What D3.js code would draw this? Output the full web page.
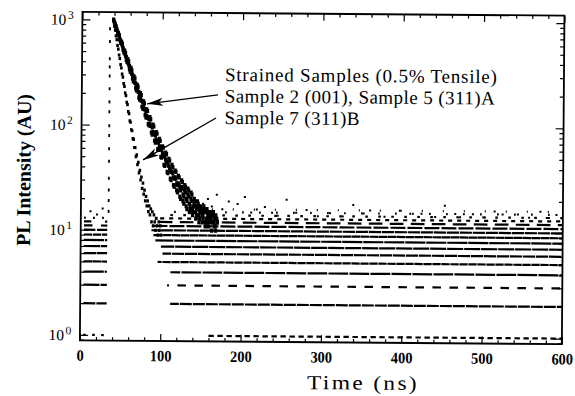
<!DOCTYPE html>
<html>
<head>
<meta charset="utf-8">
<script src="https://cdn.jsdelivr.net/npm/d3@7/dist/d3.min.js"></script>
<style>
  body { margin: 0; background: #fff; }
  text { font-family: "Liberation Serif", "Times New Roman", Times, serif; fill: #000; }
</style>
</head>
<body>
<svg id="chart" width="575" height="396"></svg>
<script>
// PL decay, counts per 1 ns channel, first channel at t0 (ns)
const t0 = 39;
// Sample 2 (001) and Sample 5 (311)A - the slow band
const sample2 = [
  1000, 944, 871, 848, 803, 741, 724, 694, 637, 601, 590, 566,
  517, 488, 479, 455, 414, 398, 391, 375, 338, 321,
  318, 306, 276, 259, 262, 251, 224, 213, 216, 207,
  182, 174, 178, 170, 149, 143, 147, 141, 124, 118,
  122, 117, 102, 99, 103, 98, 85, 81, 86, 83,
  71, 68, 73, 70, 59, 58, 63, 60, 50, 49,
  54, 52, 42, 41, 47, 45, 36, 35, 41, 39,
  31, 30, 36, 35, 27, 26, 32, 31, 24, 23,
  28, 27, 21, 20, 26, 25, 19, 18, 24, 23,
  17, 16, 22, 21, 15, 16, 20, 19, 14, 15,
  18, 17, 13, 14, 17, 16, 12, 13, 16, 15,
  12, 14, 16, 15, 11, 12, 15, 14, 11, 13,
  15, 14, 10, 12, 14, 13, 11, 10, 13, 12
];
const sample5 = [
  981, 936, 906, 861, 798, 766, 747, 712, 655, 624, 616, 589,
  538, 511, 507, 484, 442, 425, 420, 403, 363, 349,
  348, 333, 300, 286, 289, 277, 248, 237, 241, 230,
  205, 197, 201, 192, 170, 163, 168, 161, 142, 136,
  141, 136, 118, 114, 119, 114, 98, 95, 101, 97,
  83, 80, 86, 83, 70, 68, 74, 71, 59, 58,
  63, 61, 51, 50, 55, 53, 44, 42, 48, 46,
  37, 36, 42, 40, 32, 31, 37, 36, 28, 27,
  33, 32, 25, 24, 30, 29, 22, 21, 27, 26,
  20, 19, 25, 24, 18, 17, 23, 22, 16, 17,
  20, 19, 15, 16, 19, 18, 14, 15, 17, 16,
  14, 13, 17, 16, 12, 13, 16, 15, 12, 14,
  15, 13, 12, 14, 15, 12, 11, 14, 13, 12
];
// Sample 7 (311)B - the fast band
const sample7 = [
  972, 864, 792, 699, 644, 568, 524, 461, 427, 374, 348, 304,
  284, 247, 232, 201, 190, 164, 156, 134, 128, 109,
  106, 90, 88, 74, 73, 61, 61, 50, 52, 42,
  44, 35, 37, 30, 32, 25, 28, 22, 24, 19,
  21, 17, 19, 15, 17, 14, 16, 12, 15, 11,
  14, 12, 10, 13, 11, 9, 12, 10, 11, 9
];

// rising edge channel
const riseTime = 34.5;
const riseCounts = [820, 620, 425, 355, 290, 220, 165, 133, 98, 79, 59, 45, 31, 24, 19, 15];

// dark-count background: integer count levels
const preLevels = [1, 2, 3, 4, 5, 6, 7, 8, 9, 10, 11, 12, 13];
const preShare = [0.3, 0.92, 0.94, 0.96, 0.96, 0.96, 0.96, 0.96, 0.92, 0.88, 0.5, 0.35, 0.2];
const preStart = 4, preEnd = 33;

const bgLevels = [1, 2, 3, 4, 5, 6, 7, 8, 9, 10, 11, 12, 13, 14, 15, 16];
const bgStart = [160, 112, 108, 112, 96, 102, 100, 93, 90, 88, 88, 90, 92, 100, 110, 120];
const bgShare = [0.6, 0.92, 0.5, 0.94, 0.92, 0.94, 0.95, 0.96, 0.96, 0.94, 0.88, 0.65, 0.45, 0.2, 0.1, 0.05];
const bgEnd = 600;

// stray high counts above the background
const spikeTimes = [152, 158, 163, 169, 176, 184, 195, 204, 212, 219, 229, 238, 245, 256, 268, 281, 295, 310, 326, 339,
  352, 360, 378, 397, 410, 424, 441, 453, 466, 472, 488, 503, 515, 525, 544, 558, 572, 580, 592, 12, 20, 27];
const spikeCounts = [18, 20, 17, 22, 16, 19, 18, 21, 15, 16, 17, 15, 14, 20, 15, 16, 14, 15, 14, 18,
  15, 16, 14, 16, 15, 15, 14, 18, 15, 14, 15, 14, 16, 15, 15, 14, 16, 14, 15, 15, 14, 16];

const xTicks = [0, 100, 200, 300, 400, 500, 600];
const xMinor = d3.range(0, 601, 20).filter(d => d % 100);
const yTicks = [1, 10, 100, 1000];

const notes = ['Strained Samples (0.5% Tensile)', 'Sample 2 (001), Sample 5 (311)A', 'Sample 7 (311)B'];
const noteWidths = [272, 270, 135];
const noteAt = [178, 266];
const arrows = [
  { from: [169.5, 196], to: [81.3, 159] },
  { from: [167.3, 118], to: [76.8, 46.6] }
];

const x = d3.scaleLinear().domain([0, 600]).range([81, 563]);
const y = d3.scaleLog().domain([0.886, 1178]).range([342, 13.5]);

const svg = d3.select('#chart');
const defs = svg.append('defs');
defs.append('clipPath').attr('id', 'plot').append('rect')
  .attr('x', x.range()[0]).attr('y', y.range()[1])
  .attr('width', x.range()[1] - x.range()[0]).attr('height', y.range()[0] - y.range()[1]);
defs.append('marker').attr('id', 'head')
  .attr('viewBox', '0 0 16 8').attr('refX', 16).attr('refY', 4)
  .attr('markerWidth', 16).attr('markerHeight', 8)
  .attr('markerUnits', 'userSpaceOnUse').attr('orient', 'auto')
  .append('path').attr('d', 'M0,0 L16,4 L0,8 L4,4 Z').attr('fill', '#000');

// the scan is slightly tilted
const g = svg.append('g').attr('transform', 'rotate(0.45 288 198)');
const plot = g.append('g').attr('clip-path', 'url(#plot)');

function dash(share, i) {
  const p = 9 + (i % 4) * 4;
  return (p * share).toFixed(2) + ' ' + (p * (1 - share)).toFixed(2);
}

plot.append('g').selectAll('line').data(preLevels).join('line')
  .attr('x1', x(preStart)).attr('x2', x(preEnd))
  .attr('y1', d => y(d)).attr('y2', d => y(d))
  .attr('stroke', '#000').attr('stroke-width', 2.2)
  .attr('stroke-dasharray', (d, i) => dash(preShare[i], i));

plot.append('g').selectAll('line').data(bgLevels).join('line')
  .attr('x1', (d, i) => x(bgStart[i])).attr('x2', x(bgEnd))
  .attr('y1', d => y(d)).attr('y2', d => y(d))
  .attr('stroke', '#000').attr('stroke-width', 2.2)
  .attr('stroke-dasharray', (d, i) => dash(bgShare[i], i))
  .attr('stroke-dashoffset', (d, i) => i * 3.3);

plot.append('g').selectAll('rect').data(spikeCounts).join('rect')
  .attr('x', (d, i) => x(spikeTimes[i]) - 1).attr('y', d => y(d) - 1)
  .attr('width', 2).attr('height', 2).attr('fill', '#000');

// slow band drawn with bigger dots, the scan shows it as a solid smear
[[sample2, 3.2, 4.2], [sample5, 3.2, 4.2], [sample7, 2.6, 3.2]].forEach(([series, w, h]) => {
  plot.append('g').selectAll('rect').data(series).join('rect')
    .attr('x', (d, i) => x(t0 + i) - w / 2).attr('y', d => y(d) - h / 2)
    .attr('width', w).attr('height', h).attr('fill', '#000');
});

plot.append('g').selectAll('rect').data(riseCounts).join('rect')
  .attr('x', x(riseTime) - 0.9).attr('y', d => y(d) - 1.5)
  .attr('width', 1.8).attr('height', 3).attr('fill', '#000');

// axes, ticks inward on all four sides
function styleTicks(a) {
  a.select('.domain').remove();
  a.selectAll('line').attr('stroke-width', 1.2);
}
const [x0, x1] = x.range();
const [yb, yt] = y.range();
const yMinor = y.ticks().filter(d => !yTicks.includes(d));

g.append('g').attr('transform', `translate(0,${yb})`)
  .call(d3.axisBottom(x).tickValues(xTicks).tickSize(-7).tickPadding(9).tickFormat(d3.format('d')))
  .call(styleTicks)
  .call(a => a.selectAll('text')
    .attr('font-size', 16).attr('font-weight', 'bold')
    .attr('textLength', d => String(d).length * 7.2).attr('lengthAdjust', 'spacingAndGlyphs'));
g.append('g').attr('transform', `translate(0,${yb})`)
  .call(d3.axisBottom(x).tickValues(xMinor).tickSize(-3.5).tickFormat(''))
  .call(styleTicks);
g.append('g').attr('transform', `translate(0,${yt})`)
  .call(d3.axisTop(x).tickValues(xTicks).tickSize(-7).tickFormat(''))
  .call(styleTicks);
g.append('g').attr('transform', `translate(0,${yt})`)
  .call(d3.axisTop(x).tickValues(xMinor).tickSize(-3.5).tickFormat(''))
  .call(styleTicks);

g.append('g').attr('transform', `translate(${x0},0)`)
  .call(d3.axisLeft(y).tickValues(yTicks).tickSize(-8).tickFormat(''))
  .call(styleTicks);
g.append('g').attr('transform', `translate(${x0},0)`)
  .call(d3.axisLeft(y).tickValues(yMinor).tickSize(-4).tickFormat(''))
  .call(styleTicks);
g.append('g').attr('transform', `translate(${x1},0)`)
  .call(d3.axisRight(y).tickValues(yTicks).tickSize(-8).tickFormat(''))
  .call(styleTicks);
g.append('g').attr('transform', `translate(${x1},0)`)
  .call(d3.axisRight(y).tickValues(yMinor).tickSize(-4).tickFormat(''))
  .call(styleTicks);

g.append('rect')
  .attr('x', x0).attr('y', yt).attr('width', x1 - x0).attr('height', yb - yt)
  .attr('fill', 'none').attr('stroke', '#000').attr('stroke-width', 1.8);

const ylab = g.append('g').selectAll('text').data(yTicks).join('text')
  .attr('x', 49.5).attr('y', d => y(d) + 5.5).attr('font-size', 15.5);
ylab.append('tspan').text('10');
ylab.append('tspan').attr('dx', 1.5).attr('dy', -6).attr('font-size', 11.5)
  .text(d => Math.round(Math.log10(d)));

g.append('text')
  .attr('x', 308.5).attr('y', 389)
  .attr('font-size', 20).attr('letter-spacing', 2)
  .attr('textLength', 112).attr('lengthAdjust', 'spacingAndGlyphs')
  .text('Time (ns)');

g.append('text')
  .attr('transform', 'translate(30.3,172) rotate(-90)')
  .attr('text-anchor', 'middle').attr('font-size', 20).attr('font-weight', 'bold')
  .attr('textLength', 152).attr('lengthAdjust', 'spacingAndGlyphs')
  .text('PL Intensity (AU)');

g.append('g').selectAll('text').data(notes).join('text')
  .attr('x', x(noteAt[0])).attr('y', (d, i) => y(noteAt[1]) + i * 21.5)
  .attr('font-size', 19)
  .attr('textLength', (d, i) => noteWidths[i]).attr('lengthAdjust', 'spacing')
  .text(d => d);

g.append('g').selectAll('line').data(arrows).join('line')
  .attr('x1', d => x(d.from[0])).attr('y1', d => y(d.from[1]))
  .attr('x2', d => x(d.to[0])).attr('y2', d => y(d.to[1]))
  .attr('stroke', '#000').attr('stroke-width', 1.3)
  .attr('marker-end', 'url(#head)');
</script>
</body>
</html>
